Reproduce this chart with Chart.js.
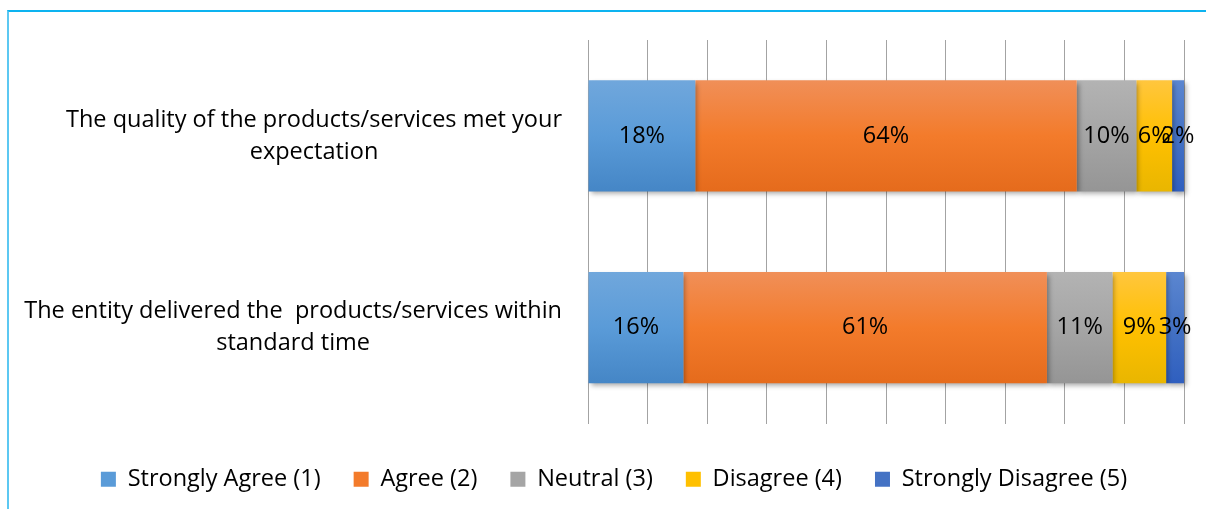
<!DOCTYPE html>
<html>
<head>
<meta charset="utf-8">
<script src="https://cdn.jsdelivr.net/npm/chart.js@4"></script>
<style>
  html, body { margin: 0; padding: 0; background: #fff; }
  #wrap { position: relative; width: 1206px; height: 509px; overflow: hidden; }
  #wrap canvas { position: absolute; left: 0; top: 0; }
  #frame { position: absolute; left: 7px; top: 10px; right: -4px; bottom: -4px;
           border-top: 2px solid #0db3f0; border-left: 2px solid #5cc8f2; pointer-events: none; }
</style>
</head>
<body>
<div id="wrap">
  <canvas id="chart" width="1206" height="509"></canvas>
  <div id="frame"></div>
</div>
<script>
// Survey statements (wrapped label lines)
const categories = [
  ['The quality of the products/services met your', 'expectation'],
  ['The entity delivered the  products/services within', 'standard time']
];
const seriesNames = ['Strongly Agree (1)', 'Agree (2)', 'Neutral (3)', 'Disagree (4)', 'Strongly Disagree (5)'];

// Share of responses, percent
const stronglyAgree    = [18, 16];
const agree            = [64, 61];
const neutral          = [10, 11];
const disagree         = [6, 9];
const stronglyDisagree = [2, 3];

// Value axis gridlines every 10% from 0 to 100
const axisMin = 0;
const axisMax = 100;
const axisStep = 10;

const FONT = '"Open Sans", "Liberation Sans", sans-serif';
const FONT_SIZE = 23.5;
const BAR_PCT = 0.58;

// top / middle / bottom colours of each series' gradient fill
const palette = [
  ['#70a7dc', '#5a9bd8', '#4586c6'],
  ['#f08f58', '#f37b2b', '#e56b1c'],
  ['#b3b3b3', '#a5a5a5', '#959595'],
  ['#ffc63e', '#ffc000', '#e9b600'],
  ['#5b86d0', '#4472c4', '#2f5fbf']
];

function barFill(colors) {
  return (ctx) => {
    const chart = ctx.chart;
    if (!chart.chartArea || ctx.dataIndex === undefined) return colors[1];
    const y = chart.scales.y;
    const center = y.getPixelForValue(ctx.dataIndex);
    const half = (y.height / categories.length) * BAR_PCT / 2;
    const g = chart.ctx.createLinearGradient(0, center - half, 0, center + half);
    g.addColorStop(0, colors[0]);
    g.addColorStop(0.5, colors[1]);
    g.addColorStop(1, colors[2]);
    return g;
  };
}

const seriesValues = [stronglyAgree, agree, neutral, disagree, stronglyDisagree];
const datasets = seriesNames.map((name, i) => ({
  label: name,
  data: seriesValues[i],
  backgroundColor: barFill(palette[i]),
  legendColor: palette[i][1],
  borderWidth: 0,
  barPercentage: BAR_PCT,
  categoryPercentage: 1,
  clip: false
}));

// soft drop shadow under each bar segment
const barShadow = {
  id: 'barShadow',
  beforeDatasetDraw(chart) {
    const c = chart.ctx;
    c.save();
    c.shadowColor = 'rgba(0,0,0,0.35)';
    c.shadowBlur = 5;
    c.shadowOffsetX = 2;
    c.shadowOffsetY = 3;
  },
  afterDatasetDraw(chart) {
    chart.ctx.restore();
  }
};

// percentage written in the middle of each segment
const segmentLabels = {
  id: 'segmentLabels',
  afterDatasetsDraw(chart) {
    const c = chart.ctx;
    c.save();
    c.font = FONT_SIZE + 'px ' + FONT;
    c.fillStyle = '#000';
    c.textAlign = 'center';
    c.textBaseline = 'middle';
    chart.data.datasets.forEach((ds, di) => {
      chart.getDatasetMeta(di).data.forEach((bar, i) => {
        const p = bar.getCenterPoint();
        c.fillText(ds.data[i] + '%', p.x, p.y);
      });
    });
    c.restore();
  }
};

// category text: block right-aligned beside the plot, lines centred inside it
const categoryLabels = {
  id: 'categoryLabels',
  afterDraw(chart) {
    const c = chart.ctx;
    const y = chart.scales.y;
    const right = chart.chartArea.left - 26;
    const lineHeight = 32;
    c.save();
    c.font = FONT_SIZE + 'px ' + FONT;
    c.fillStyle = '#000';
    c.textAlign = 'center';
    c.textBaseline = 'middle';
    categories.forEach((lines, i) => {
      const cy = y.getPixelForValue(i);
      const w = Math.max(...lines.map(l => c.measureText(l).width));
      const cx = right - w / 2;
      lines.forEach((line, k) => {
        c.fillText(line, cx, cy + (k - (lines.length - 1) / 2) * lineHeight);
      });
    });
    c.restore();
  }
};

new Chart(document.getElementById('chart'), {
  type: 'bar',
  data: { labels: categories.map(l => l.join(' ')), datasets },
  options: {
    indexAxis: 'y',
    responsive: false,
    animation: false,
    layout: { padding: { top: 40, left: 22, right: 0, bottom: 8 } },
    scales: {
      x: {
        stacked: true,
        min: axisMin,
        max: axisMax,
        ticks: { display: false, stepSize: axisStep },
        grid: { color: '#a3a3a3', lineWidth: 1, drawTicks: false },
        border: { display: false },
        afterFit(s) { s.height = 11; }
      },
      y: {
        stacked: true,
        ticks: { display: false },
        grid: { display: false, drawTicks: false },
        border: { display: false },
        afterFit(s) { s.width = 566; }
      },
      y2: {
        type: 'category',
        position: 'right',
        ticks: { display: false },
        grid: { display: false, drawTicks: false },
        border: { display: false },
        afterFit(s) { s.width = 22; }
      }
    },
    plugins: {
      tooltip: { enabled: false },
      legend: {
        position: 'bottom',
        labels: {
          boxWidth: 15,
          boxHeight: 15,
          padding: 33,
          color: '#000',
          font: { family: FONT, size: FONT_SIZE },
          generateLabels(chart) {
            return chart.data.datasets.map((ds, i) => ({
              text: ds.label,
              fillStyle: ds.legendColor,
              strokeStyle: ds.legendColor,
              lineWidth: 0,
              hidden: false,
              datasetIndex: i
            }));
          }
        }
      }
    }
  },
  plugins: [barShadow, segmentLabels, categoryLabels]
});
</script>
</body>
</html>
